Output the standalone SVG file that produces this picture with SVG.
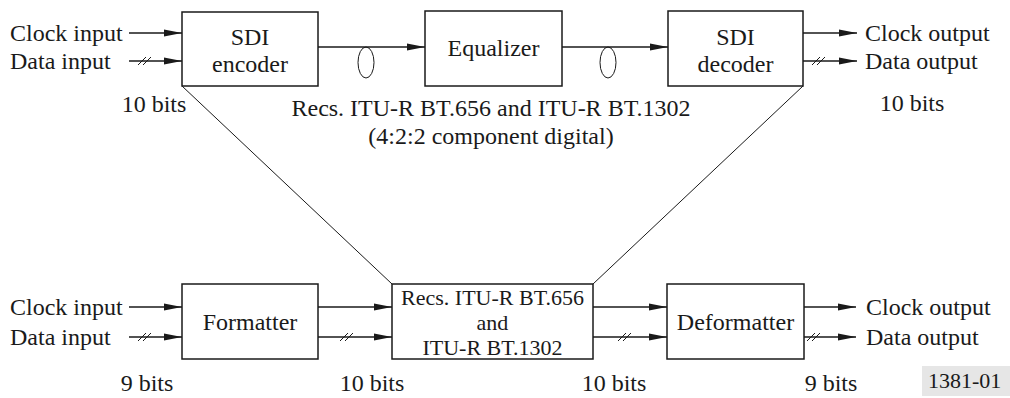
<svg xmlns="http://www.w3.org/2000/svg" width="1010" height="398" viewBox="0 0 1010 398">
<defs>
<style>
.box{fill:#fff;stroke:#1a1a1a;stroke-width:1.5}
.ln{fill:none;stroke:#1a1a1a;stroke-width:1.3}
.thin{fill:none;stroke:#1a1a1a;stroke-width:1}
.arr{marker-end:url(#ah)}
</style>
<marker id="ah" markerUnits="userSpaceOnUse" markerWidth="18" markerHeight="8" refX="18" refY="4" orient="auto">
<path d="M0,0.5 L18,4 L0,7.5 z" fill="#1a1a1a"/>
</marker>
</defs>
<rect width="1010" height="398" fill="#fff"/>

<g id="connectors">
<line class="ln arr" x1="129" y1="33" x2="182" y2="33"/>
<line class="ln arr" x1="129" y1="61" x2="182" y2="61"/>
<path class="thin" d="M138,65 L146,57 M143,65 L151,57"/>
<line class="ln arr" x1="318" y1="47" x2="425" y2="47"/>
<ellipse class="thin" cx="366" cy="62.5" rx="8" ry="15.5"/>
<line class="ln arr" x1="562" y1="47" x2="668" y2="47"/>
<ellipse class="thin" cx="608" cy="62.5" rx="8" ry="15.5"/>
<line class="ln arr" x1="803" y1="33" x2="857" y2="33"/>
<line class="ln arr" x1="803" y1="61" x2="857" y2="61"/>
<path class="thin" d="M812,65 L820,57 M817,65 L825,57"/>
<line class="thin" x1="182" y1="86" x2="392" y2="284"/>
<line class="thin" x1="803" y1="86" x2="593" y2="284"/>
<line class="ln arr" x1="129" y1="307" x2="182" y2="307"/>
<line class="ln arr" x1="129" y1="337" x2="182" y2="337"/>
<path class="thin" d="M138,341 L146,333 M143,341 L151,333"/>
<line class="ln arr" x1="318" y1="307" x2="392" y2="307"/>
<line class="ln arr" x1="318" y1="337" x2="392" y2="337"/>
<path class="thin" d="M340,341 L348,333 M345,341 L353,333"/>
<line class="ln arr" x1="593" y1="307" x2="667" y2="307"/>
<line class="ln arr" x1="593" y1="337" x2="667" y2="337"/>
<path class="thin" d="M618,341 L626,333 M623,341 L631,333"/>
<line class="ln arr" x1="804" y1="307" x2="856" y2="307"/>
<line class="ln arr" x1="804" y1="337" x2="856" y2="337"/>
<path class="thin" d="M807,341 L815,333 M812,341 L820,333"/>
</g>

<g font-family="'Liberation Serif', 'Times New Roman', 'DejaVu Serif', serif" font-size="24" fill="#1a1a1a">
<g id="sdi-encoder">
<rect class="box" x="182" y="12" width="136" height="74"/>
<text text-anchor="middle" x="250" y="45">SDI</text>
<text text-anchor="middle" x="250" y="72">encoder</text>
</g>
<g id="equalizer">
<rect class="box" x="425" y="11" width="137" height="75"/>
<text text-anchor="middle" x="493.5" y="56">Equalizer</text>
</g>
<g id="sdi-decoder">
<rect class="box" x="668" y="11" width="135" height="75"/>
<text text-anchor="middle" x="735.5" y="45">SDI</text>
<text text-anchor="middle" x="735.5" y="72">decoder</text>
</g>
<g id="formatter">
<rect class="box" x="182" y="284" width="136" height="75"/>
<text text-anchor="middle" x="250" y="330">Formatter</text>
</g>
<g id="recs-box">
<rect class="box" x="392" y="284" width="201" height="75"/>
<text text-anchor="middle" font-size="22" x="492.5" y="305">Recs. ITU-R BT.656</text>
<text text-anchor="middle" font-size="22" x="492.5" y="330">and</text>
<text text-anchor="middle" font-size="22" x="492.5" y="355">ITU-R BT.1302</text>
</g>
<g id="deformatter">
<rect class="box" x="667" y="284" width="137" height="75"/>
<text text-anchor="middle" x="735.5" y="330">Deformatter</text>
</g>

<g id="labels">
<text x="10" y="41">Clock input</text>
<text x="10" y="69">Data input</text>
<text text-anchor="middle" x="154" y="112">10 bits</text>
<text x="865" y="41">Clock output</text>
<text x="865" y="69">Data output</text>
<text text-anchor="middle" x="912" y="111">10 bits</text>
<text text-anchor="middle" x="491" y="116">Recs. ITU-R BT.656 and ITU-R BT.1302</text>
<text text-anchor="middle" x="491" y="144">(4:2:2 component digital)</text>
<text x="10" y="315">Clock input</text>
<text x="10" y="345">Data input</text>
<text x="866" y="315">Clock output</text>
<text x="866" y="345">Data output</text>
<text text-anchor="middle" x="147" y="391">9 bits</text>
<text text-anchor="middle" x="372" y="391">10 bits</text>
<text text-anchor="middle" x="614" y="391">10 bits</text>
<text text-anchor="middle" x="831" y="391">9 bits</text>
<rect x="922" y="366" width="88" height="30" fill="#e6e6e6"/>
<text font-size="22" x="928" y="388">1381-01</text>
</g>
</g>
</svg>
